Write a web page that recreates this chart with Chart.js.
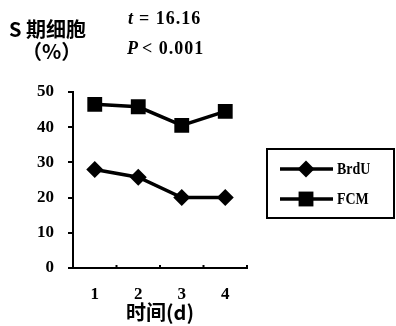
<!DOCTYPE html>
<html><head><meta charset="utf-8">
<script src="https://cdn.jsdelivr.net/npm/chart.js@4"></script>
<style>html,body{margin:0;padding:0;background:#fff}</style>
</head><body>
<canvas id="c" width="396" height="326"></canvas>
<script>
const categories = ['1', '2', '3', '4'];
const seriesNames = ['BrdU', 'FCM'];
const brduValues = [28, 25.8, 20, 20];
const fcmValues = [46.5, 45.8, 40.5, 44.5];
const yTickValues = [0, 10, 20, 30, 40, 50];
const yAxisTitle = ['S 期细胞', '（%）'];
const xAxisTitle = '时间(d)';

const SERIF = '"Liberation Serif", "DejaVu Serif", serif';
const CJK = '"Noto Sans CJK SC", sans-serif';

const styles = [
  { pointStyle: 'rectRot', radius: 8.5 },
  { pointStyle: 'rect', radius: 10.5 }
];

function drawMarker(ctx, style, x, y) {
  ctx.beginPath();
  if (style.pointStyle === 'rectRot') {
    const r = style.radius;
    ctx.moveTo(x, y - r); ctx.lineTo(x + r, y); ctx.lineTo(x, y + r); ctx.lineTo(x - r, y);
    ctx.closePath();
  } else {
    const s = style.radius * Math.SQRT1_2;
    ctx.rect(x - s, y - s, 2 * s, 2 * s);
  }
  ctx.fill();
}

function condensedText(ctx, text, x, y, sx) {
  ctx.save();
  ctx.translate(x, y);
  ctx.scale(sx, 1);
  ctx.fillText(text, 0, 0);
  ctx.restore();
}

const overlay = {
  id: 'overlay',
  afterDraw(chart) {
    const ctx = chart.ctx;
    ctx.save();
    ctx.fillStyle = '#000';
    ctx.strokeStyle = '#000';
    ctx.textBaseline = 'middle';
    // small inward ticks on the x axis at category boundaries
    const xs = chart.scales.x;
    const n = categories.length;
    ctx.lineWidth = 2;
    for (let i = 1; i <= n; i++) {
      const px = xs.left + i * (xs.right - xs.left) / n;
      ctx.beginPath(); ctx.moveTo(px, xs.top - 3); ctx.lineTo(px, xs.top); ctx.stroke();
    }
    // y-axis title
    ctx.textAlign = 'left';
    ctx.font = 'bold 20px ' + CJK;
    ctx.fillText(yAxisTitle[0], 9, 29);
    ctx.fillText(yAxisTitle[1], 22, 51);
    // statistics
    ctx.font = 'italic bold 18px ' + SERIF;
    ctx.fillText('t', 128, 19);
    ctx.fillText('P', 127, 49);
    ctx.font = 'bold 18px ' + SERIF;
    ctx.letterSpacing = '1px';
    ctx.fillText('= 16.16', 139, 19);
    ctx.fillText('< 0.001', 142, 49);
    ctx.letterSpacing = '0px';
    // x-axis title
    ctx.textAlign = 'center';
    ctx.font = 'bold 20px ' + CJK;
    ctx.fillText(xAxisTitle, 160, 312);
    // legend
    ctx.lineWidth = 2;
    ctx.strokeRect(267, 149, 127, 69);
    const rowsY = [169, 199];
    chart.data.datasets.forEach((ds, i) => {
      const y = rowsY[i];
      ctx.lineWidth = 3.5;
      ctx.beginPath(); ctx.moveTo(280, y); ctx.lineTo(333, y); ctx.stroke();
      drawMarker(ctx, styles[i], 306, y);
      ctx.textAlign = 'left';
      ctx.font = 'bold 17px ' + SERIF;
      condensedText(ctx, ds.label, 337, y + 1, 0.82);
    });
    ctx.restore();
  }
};

new Chart(document.getElementById('c'), {
  type: 'line',
  data: {
    labels: categories,
    datasets: [brduValues, fcmValues].map((vals, i) => ({
      label: seriesNames[i],
      data: vals,
      borderColor: '#000',
      backgroundColor: '#000',
      borderWidth: 3.5,
      pointStyle: styles[i].pointStyle,
      pointRadius: styles[i].radius,
      pointBackgroundColor: '#000',
      pointBorderWidth: 0,
      tension: 0
    }))
  },
  options: {
    responsive: false,
    devicePixelRatio: 1,
    animation: false,
    layout: { padding: { left: 0, top: 92, right: 149, bottom: 0 } },
    plugins: { legend: { display: false }, tooltip: { enabled: false } },
    scales: {
      x: {
        offset: true,
        grid: { offset: true, drawOnChartArea: false, drawTicks: false },
        border: { display: true, color: '#000', width: 2 },
        ticks: { color: '#000', padding: 16, font: { family: SERIF, size: 17, weight: 'bold' }, maxRotation: 0 },
        afterFit(s) { s.height = 58; }
      },
      y: {
        min: 0, max: 50,
        afterBuildTicks(s) { s.ticks = yTickValues.map(v => ({ value: v })); },
        grid: { drawOnChartArea: false, drawTicks: true, tickLength: 5, color: '#000', lineWidth: 2 },
        border: { display: true, color: '#000', width: 2 },
        ticks: { color: '#000', padding: 14, font: { family: SERIF, size: 17, weight: 'bold' } },
        afterFit(s) { s.width = 73; }
      }
    }
  },
  plugins: [overlay]
});
</script>
</body></html>
